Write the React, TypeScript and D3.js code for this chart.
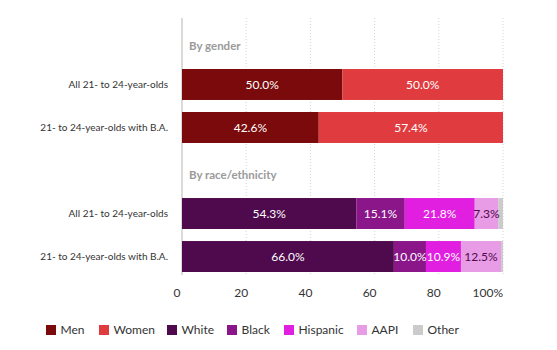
import React, { useRef, useEffect } from "react";
import * as d3 from "d3";

const ROW_LABELS = ["All 21- to 24-year-olds", "21- to 24-year-olds with B.A."];
const GENDER_KEYS = ["Men", "Women"];
const GENDER_VALUES = [
  [50.0, 50.0],
  [42.6, 57.4],
];
const RACE_KEYS = ["White", "Black", "Hispanic", "AAPI", "Other"];
const RACE_VALUES = [
  [54.3, 15.1, 21.8, 7.3, 1.5],
  [66.0, 10.0, 10.9, 12.5, 0.6],
];
const X_TICKS = [0, 20, 40, 60, 80, 100];

const COLORS: Record<string, string> = {
  Men: "#7a0a0c",
  Women: "#e03c40",
  White: "#4e0a4c",
  Black: "#8a168a",
  Hispanic: "#e11fe0",
  AAPI: "#e89ce6",
  Other: "#cbcbcb",
};
const DARK_LABEL = new Set(["AAPI"]);

const W = 557;
const H = 350;
const FONT = "Lato, 'Open Sans', sans-serif";

export default function App() {
  const svgRef = useRef<SVGSVGElement>(null);

  useEffect(() => {
    const svg = d3.select(svgRef.current);
    svg.selectAll("*").remove();

    const x = d3.scaleLinear().domain([0, 100]).range([182, 503]);
    const slots = ["hdrGender", "g0", "g1", "hdrRace", "r0", "r1"];
    const y = d3.scaleBand().domain(slots).range([26, 272]).paddingInner(0.28).paddingOuter(0);

    // dotted gridlines
    svg
      .append("g")
      .selectAll("line")
      .data(X_TICKS.slice(1))
      .join("line")
      .attr("x1", (d) => x(d))
      .attr("x2", (d) => x(d))
      .attr("y1", 18)
      .attr("y2", 275)
      .attr("stroke", "#d4d4d4")
      .attr("stroke-width", 1)
      .attr("stroke-dasharray", "1,2");

    // solid baseline
    svg
      .append("line")
      .attr("x1", x(0))
      .attr("x2", x(0))
      .attr("y1", 18)
      .attr("y2", 275)
      .attr("stroke", "#b5b5b5");

    // section headers
    [
      ["hdrGender", "By gender"],
      ["hdrRace", "By race/ethnicity"],
    ].forEach(([k, t]) => {
      svg
        .append("text")
        .attr("x", x(0) + 7)
        .attr("y", (y(k) as number) + y.bandwidth() / 2 + 4)
        .attr("dy", "0.35em")
        .attr("font-family", FONT)
        .attr("font-size", 11.5)
        .attr("font-weight", 700)
        .attr("fill", "#9a9a9a")
        .text(t);
    });

    const drawGroup = (prefix: string, keys: string[], values: number[][]) => {
      values.forEach((row, i) => {
        const slot = `${prefix}${i}`;
        const top = y(slot) as number;
        const bw = y.bandwidth();
        const stacked = d3.stack<number[]>().keys(keys.map((_, j) => String(j)))
          .value((d, k) => d[+k])([row]);
        const g = svg.append("g");
        g.selectAll("rect")
          .data(stacked)
          .join("rect")
          .attr("x", (s) => x(s[0][0]))
          .attr("width", (s) => x(s[0][1]) - x(s[0][0]))
          .attr("y", top)
          .attr("height", bw)
          .attr("fill", (s) => COLORS[keys[s.index]]);
        g.selectAll("text")
          .data(stacked.filter((s) => keys[s.index] !== "Other"))
          .join("text")
          .attr("x", (s) => (x(s[0][0]) + x(s[0][1])) / 2)
          .attr("y", top + bw / 2)
          .attr("dy", "0.35em")
          .attr("text-anchor", "middle")
          .attr("font-family", FONT)
          .attr("font-size", 12)
          .attr("fill", (s) => (DARK_LABEL.has(keys[s.index]) ? "#4e0a4c" : "#ffffff"))
          .text((s) => `${row[s.index].toFixed(1)}%`);

        svg
          .append("text")
          .attr("x", 168)
          .attr("y", top + bw / 2)
          .attr("dy", "0.35em")
          .attr("text-anchor", "end")
          .attr("font-family", FONT)
          .attr("font-size", 10)
          .attr("fill", "#333")
          .text(ROW_LABELS[i]);
      });
    };
    drawGroup("g", GENDER_KEYS, GENDER_VALUES);
    drawGroup("r", RACE_KEYS, RACE_VALUES);

    // x tick labels
    svg
      .append("g")
      .selectAll("text")
      .data(X_TICKS)
      .join("text")
      .attr("x", (d) => (d === 100 ? x(d) : x(d) - 5))
      .attr("y", 293)
      .attr("dy", "0.35em")
      .attr("text-anchor", (d) => (d === 100 ? "end" : "middle"))
      .attr("font-family", FONT)
      .attr("font-size", 12)
      .attr("fill", "#333")
      .text((d) => (d === 100 ? "100%" : String(d)));

    // legend
    const legendKeys = [...GENDER_KEYS, ...RACE_KEYS];
    const legendX = [46, 99, 167, 227, 284, 357, 413];
    const lg = svg.append("g");
    legendKeys.forEach((k, i) => {
      lg.append("rect")
        .attr("x", legendX[i])
        .attr("y", 325)
        .attr("width", 10)
        .attr("height", 10)
        .attr("fill", COLORS[k]);
      lg.append("text")
        .attr("x", legendX[i] + 14.5)
        .attr("y", 330)
        .attr("dy", "0.35em")
        .attr("font-family", FONT)
        .attr("font-size", 12)
        .attr("fill", "#333")
        .text(k);
    });
  }, []);

  return (
    <div style={{ position: "absolute", left: 0, top: 0 }}>
      <svg ref={svgRef} width={W} height={H} style={{ display: "block", background: "#fff" }} />
    </div>
  );
}
